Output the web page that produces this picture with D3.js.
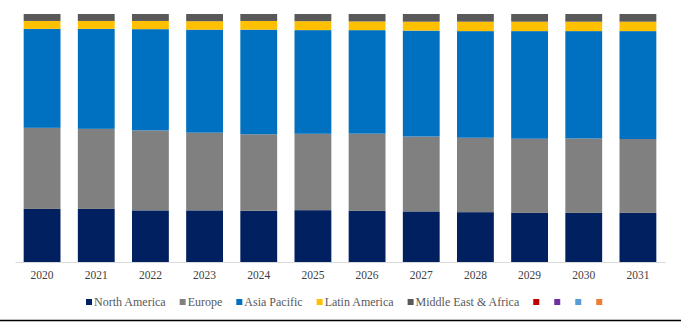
<!DOCTYPE html>
<html lang="en">
<head>
    <meta charset="UTF-8">
    <title>Regional Share 2020-2031</title>
    <style>
        body {
            margin: 0;
            padding: 0;
            background: #ffffff;
        }
    </style>
</head>
<body>
<svg id="chart"></svg>

<script src="https://d3js.org/d3.v7.min.js"></script>
<script>
    // Chart data (share of total, %)
    var years = ["2020", "2021", "2022", "2023", "2024", "2025", "2026", "2027", "2028", "2029", "2030", "2031"];
    var northAmerica = [21.4, 21.4, 20.8, 20.8, 20.6, 20.9, 20.6, 20.4, 20.1, 19.8, 19.8, 19.8];
    var europe = [32.7, 32.3, 32.2, 31.3, 30.8, 30.8, 31.1, 30.2, 30.0, 29.9, 30.0, 29.8];
    var asiaPacific = [39.9, 40.3, 40.8, 41.5, 42.1, 41.8, 41.7, 42.7, 43.0, 43.4, 43.3, 43.5];
    var latinAmerica = [3.2, 3.2, 3.3, 3.4, 3.5, 3.6, 3.5, 3.6, 3.8, 3.8, 3.8, 3.8];
    var middleEastAfrica = [2.8, 2.8, 2.8, 2.9, 2.8, 2.9, 3.0, 3.1, 3.1, 3.1, 3.1, 3.1];

    var seriesNames = ["North America", "Europe", "Asia Pacific", "Latin America", "Middle East & Africa"];
    var seriesColors = ["#002060", "#808080", "#0070C0", "#FFC000", "#595959"];
    // legend entries without data
    var emptyColors = ["#C00000", "#7030A0", "#5B9BD5", "#ED7D31"];

    var FONT = "'Liberation Serif', 'Times New Roman', Times, serif";

    var W = 681, H = 322;
    var margin = {top: 14, right: 16, bottom: 60, left: 15};
    var width = W - margin.left - margin.right,
        height = H - margin.top - margin.bottom;

    var rows = years.map(function (y, i) {
        return {
            year: y,
            "North America": northAmerica[i],
            "Europe": europe[i],
            "Asia Pacific": asiaPacific[i],
            "Latin America": latinAmerica[i],
            "Middle East & Africa": middleEastAfrica[i]
        };
    });

    var stack = d3.stack().keys(seriesNames).offset(d3.stackOffsetExpand);
    var layers = stack(rows);

    var svg = d3.select("#chart")
        .attr("width", W)
        .attr("height", H);

    var g = svg.append("g")
        .attr("transform", "translate(" + margin.left + "," + margin.top + ")");

    var x = d3.scaleBand()
        .domain(years)
        .range([0, width])
        .paddingInner(0.32)
        .paddingOuter(0.16);

    var y = d3.scaleLinear()
        .domain([0, 1])
        .range([height, 0]);

    // bars
    g.selectAll("g.layer")
        .data(layers)
        .enter()
        .append("g")
        .attr("class", "layer")
        .attr("fill", function (d, i) { return seriesColors[i]; })
        .selectAll("rect")
        .data(function (d) { return d; })
        .enter()
        .append("rect")
        .attr("x", function (d) { return x(d.data.year); })
        .attr("y", function (d) { return y(d[1]); })
        .attr("width", x.bandwidth())
        .attr("height", function (d) { return y(d[0]) - y(d[1]); });

    // x axis
    var xAxis = g.append("g")
        .attr("transform", "translate(0," + height + ")")
        .call(d3.axisBottom(x).tickSize(0).tickPadding(9));
    xAxis.attr("font-family", null);
    xAxis.select(".domain").attr("stroke", "#D9D9D9");
    xAxis.selectAll("text")
        .style("font-family", FONT)
        .style("font-size", "11.5px")
        .attr("fill", "#404040");

    // legend
    var legend = svg.append("g")
        .attr("transform", "translate(86," + 302 + ")");
    var items = seriesNames.map(function (n, i) { return {name: n, color: seriesColors[i]}; })
        .concat(emptyColors.map(function (c) { return {name: "", color: c}; }));

    var cx = 0;
    items.forEach(function (it) {
        var item = legend.append("g").attr("transform", "translate(" + cx + ",0)");
        item.append("rect")
            .attr("x", 0)
            .attr("y", -3)
            .attr("width", 6)
            .attr("height", 6)
            .attr("fill", it.color);
        var t = item.append("text")
            .attr("x", 8)
            .attr("dy", "0.35em")
            .style("font-family", FONT)
            .style("font-size", "12px")
            .attr("fill", "#595959")
            .text(it.name);
        var tw = it.name ? t.node().getComputedTextLength() : 0;
        cx += 8 + tw + (it.name ? 14 : 13);
    });

    // bottom frame line
    svg.append("line")
        .attr("x1", 0)
        .attr("x2", W)
        .attr("y1", H - 1.5)
        .attr("y2", H - 1.5)
        .attr("stroke", "#000000")
        .attr("stroke-width", 1.5);
</script>
</body>
</html>
